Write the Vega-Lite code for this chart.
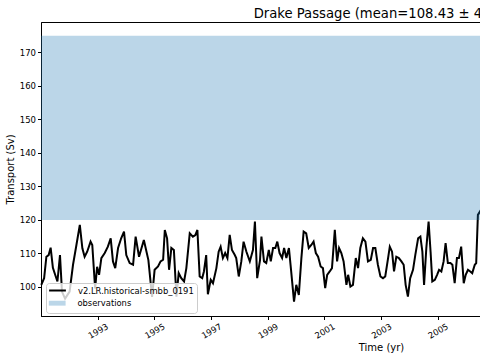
{
  "$schema": "https://vega.github.io/schema/vega-lite/v6.json",
  "autosize": "none",
  "padding": {"left": 41, "top": 22, "right": 10, "bottom": 44},
  "width": 680,
  "height": 294,
  "title": {"text": "Drake Passage (mean=108.43 ± 4.52)", "fontSize": 13.2, "font": "DejaVu Sans", "fontWeight": "normal", "color": "black", "offset": 0.5, "anchor": "middle"},
  "config": {
    "view": {"stroke": "black", "strokeWidth": 1},
    "font": "DejaVu Sans",
    "axis": {"grid": false, "domainColor": "black", "tickColor": "black", "labelColor": "black", "titleColor": "black", "labelFont": "DejaVu Sans", "titleFont": "DejaVu Sans", "labelFontSize": 8.5, "titleFontSize": 10, "titleFontWeight": "normal", "tickSize": 3.5, "domainWidth": 1, "tickWidth": 1, "labelOverlap": false, "labelFlush": false},
    "legend": {"labelFont": "DejaVu Sans", "labelFontSize": 8.4, "labelColor": "black", "titleFont": "DejaVu Sans"}
  },
  "layer": [
    {
      "data": {"values": [
        {"t": 1991.01, "v": 100.6}, {"t": 1991.11, "v": 102.6}, {"t": 1991.19, "v": 109.0}, {"t": 1991.27, "v": 109.5},
        {"t": 1991.34, "v": 111.7}, {"t": 1991.42, "v": 105.7}, {"t": 1991.50, "v": 103.6}, {"t": 1991.58, "v": 101.6},
        {"t": 1991.67, "v": 109.5}, {"t": 1991.74, "v": 98.6}, {"t": 1991.85, "v": 96.5}, {"t": 1992.01, "v": 98.6},
        {"t": 1992.13, "v": 106.6}, {"t": 1992.25, "v": 112.5}, {"t": 1992.37, "v": 118.5}, {"t": 1992.46, "v": 111.5},
        {"t": 1992.54, "v": 109.0}, {"t": 1992.63, "v": 110.5}, {"t": 1992.75, "v": 113.5}, {"t": 1992.81, "v": 112.5},
        {"t": 1992.91, "v": 99.5}, {"t": 1992.98, "v": 106.0}, {"t": 1993.05, "v": 103.6}, {"t": 1993.13, "v": 108.6},
        {"t": 1993.25, "v": 110.1}, {"t": 1993.36, "v": 112.0}, {"t": 1993.46, "v": 114.5}, {"t": 1993.54, "v": 107.6},
        {"t": 1993.62, "v": 105.6}, {"t": 1993.72, "v": 111.6}, {"t": 1993.83, "v": 114.5}, {"t": 1993.93, "v": 116.5},
        {"t": 1994.01, "v": 109.5}, {"t": 1994.13, "v": 107.1}, {"t": 1994.25, "v": 106.6}, {"t": 1994.34, "v": 115.0},
        {"t": 1994.46, "v": 109.0}, {"t": 1994.63, "v": 114.0}, {"t": 1994.79, "v": 108.0}, {"t": 1994.92, "v": 97.0},
        {"t": 1995.01, "v": 105.1}, {"t": 1995.13, "v": 106.1}, {"t": 1995.22, "v": 107.6}, {"t": 1995.31, "v": 108.1},
        {"t": 1995.37, "v": 117.0}, {"t": 1995.45, "v": 114.5}, {"t": 1995.52, "v": 105.1}, {"t": 1995.60, "v": 111.6},
        {"t": 1995.69, "v": 111.0}, {"t": 1995.78, "v": 97.1}, {"t": 1995.86, "v": 104.1}, {"t": 1995.95, "v": 102.6},
        {"t": 1996.05, "v": 101.6}, {"t": 1996.13, "v": 105.6}, {"t": 1996.25, "v": 116.0}, {"t": 1996.36, "v": 115.0},
        {"t": 1996.45, "v": 115.5}, {"t": 1996.52, "v": 117.0}, {"t": 1996.60, "v": 103.1}, {"t": 1996.69, "v": 102.6},
        {"t": 1996.75, "v": 104.6}, {"t": 1996.83, "v": 109.5}, {"t": 1996.89, "v": 97.8}, {"t": 1996.99, "v": 102.1},
        {"t": 1997.07, "v": 101.1}, {"t": 1997.19, "v": 105.6}, {"t": 1997.27, "v": 110.5}, {"t": 1997.34, "v": 112.0},
        {"t": 1997.42, "v": 108.6}, {"t": 1997.50, "v": 110.1}, {"t": 1997.58, "v": 108.6}, {"t": 1997.66, "v": 115.5},
        {"t": 1997.74, "v": 111.0}, {"t": 1997.84, "v": 109.5}, {"t": 1997.89, "v": 108.6}, {"t": 1997.98, "v": 103.1},
        {"t": 1998.07, "v": 107.6}, {"t": 1998.15, "v": 113.5}, {"t": 1998.25, "v": 110.5}, {"t": 1998.37, "v": 107.6},
        {"t": 1998.48, "v": 111.0}, {"t": 1998.55, "v": 119.5}, {"t": 1998.63, "v": 102.6}, {"t": 1998.73, "v": 108.0},
        {"t": 1998.78, "v": 115.0}, {"t": 1998.87, "v": 107.6}, {"t": 1998.95, "v": 107.1}, {"t": 1999.04, "v": 111.0},
        {"t": 1999.11, "v": 107.6}, {"t": 1999.19, "v": 111.6}, {"t": 1999.27, "v": 111.6}, {"t": 1999.34, "v": 113.5},
        {"t": 1999.42, "v": 110.1}, {"t": 1999.51, "v": 108.6}, {"t": 1999.58, "v": 111.6}, {"t": 1999.66, "v": 108.6},
        {"t": 1999.75, "v": 111.6}, {"t": 1999.83, "v": 104.6}, {"t": 1999.93, "v": 95.6}, {"t": 2000.01, "v": 100.6},
        {"t": 2000.10, "v": 97.6}, {"t": 2000.19, "v": 108.6}, {"t": 2000.27, "v": 116.5}, {"t": 2000.36, "v": 116.0},
        {"t": 2000.45, "v": 111.6}, {"t": 2000.54, "v": 112.5}, {"t": 2000.62, "v": 113.5}, {"t": 2000.70, "v": 110.1},
        {"t": 2000.78, "v": 109.0}, {"t": 2000.87, "v": 106.1}, {"t": 2000.95, "v": 105.6}, {"t": 2001.03, "v": 99.6},
        {"t": 2001.10, "v": 103.6}, {"t": 2001.19, "v": 104.6}, {"t": 2001.27, "v": 105.6}, {"t": 2001.37, "v": 117.0},
        {"t": 2001.45, "v": 107.6}, {"t": 2001.52, "v": 111.6}, {"t": 2001.60, "v": 110.1}, {"t": 2001.68, "v": 107.6},
        {"t": 2001.78, "v": 100.6}, {"t": 2001.84, "v": 103.6}, {"t": 2001.92, "v": 100.1}, {"t": 2002.01, "v": 100.6},
        {"t": 2002.11, "v": 108.6}, {"t": 2002.19, "v": 105.6}, {"t": 2002.27, "v": 111.6}, {"t": 2002.36, "v": 114.5},
        {"t": 2002.45, "v": 113.5}, {"t": 2002.54, "v": 107.6}, {"t": 2002.64, "v": 108.1}, {"t": 2002.72, "v": 111.6},
        {"t": 2002.80, "v": 111.6}, {"t": 2002.89, "v": 106.6}, {"t": 2002.98, "v": 103.1}, {"t": 2003.07, "v": 102.6},
        {"t": 2003.15, "v": 103.1}, {"t": 2003.25, "v": 108.6}, {"t": 2003.31, "v": 112.0}, {"t": 2003.39, "v": 110.5},
        {"t": 2003.46, "v": 104.6}, {"t": 2003.54, "v": 109.0}, {"t": 2003.63, "v": 108.6}, {"t": 2003.72, "v": 107.6},
        {"t": 2003.80, "v": 106.6}, {"t": 2003.87, "v": 100.6}, {"t": 2003.95, "v": 97.1}, {"t": 2004.03, "v": 102.6},
        {"t": 2004.13, "v": 105.1}, {"t": 2004.21, "v": 109.5}, {"t": 2004.31, "v": 114.5}, {"t": 2004.39, "v": 115.0},
        {"t": 2004.46, "v": 110.5}, {"t": 2004.52, "v": 100.6}, {"t": 2004.60, "v": 111.6}, {"t": 2004.68, "v": 119.5},
        {"t": 2004.75, "v": 110.5}, {"t": 2004.81, "v": 101.6}, {"t": 2004.90, "v": 102.1}, {"t": 2004.98, "v": 103.6},
        {"t": 2005.05, "v": 105.1}, {"t": 2005.13, "v": 104.6}, {"t": 2005.21, "v": 107.6}, {"t": 2005.28, "v": 113.1},
        {"t": 2005.36, "v": 107.1}, {"t": 2005.45, "v": 107.1}, {"t": 2005.52, "v": 106.6}, {"t": 2005.60, "v": 101.1},
        {"t": 2005.68, "v": 108.6}, {"t": 2005.75, "v": 108.6}, {"t": 2005.83, "v": 112.0}, {"t": 2005.92, "v": 101.1},
        {"t": 2005.99, "v": 103.6}, {"t": 2006.07, "v": 105.1}, {"t": 2006.15, "v": 104.6}, {"t": 2006.22, "v": 104.1},
        {"t": 2006.31, "v": 106.6}, {"t": 2006.36, "v": 107.1}, {"t": 2006.42, "v": 121.5}, {"t": 2006.53, "v": 123.0}
      ]},
      "mark": {"type": "line", "strokeWidth": 2},
      "encoding": {
        "x": {"field": "t", "type": "quantitative", "scale": {"domain": [1991, 2015], "nice": false, "zero": false},
              "axis": {"values": [1993, 1995, 1997, 1999, 2001, 2003, 2005, 2007, 2009, 2011, 2013], "format": "d", "labelAngle": -30, "labelAlign": "center", "labelBaseline": "middle", "labelPadding": 11, "title": "Time (yr)", "titlePadding": 3}},
        "y": {"field": "v", "type": "quantitative", "scale": {"domain": [91.3, 179.1], "nice": false, "zero": false},
              "axis": {"values": [100, 110, 120, 130, 140, 150, 160, 170], "title": "Transport (Sv)", "labelPadding": 2, "titlePadding": 4}},
        "color": {"datum": "v2.LR.historical-smbb_0191", "type": "nominal",
                  "scale": {"domain": ["v2.LR.historical-smbb_0191"], "range": ["black"]},
                  "legend": {"orient": "none", "legendX": 5, "legendY": 261, "title": " ", "titleOrient": "bottom", "titleFontSize": 8.4, "titlePadding": 6,
                             "padding": 3, "labelOffset": 16, "symbolOffset": 4, "symbolSize": 49, "symbolStrokeWidth": 2,
                             "symbolType": "M-2.4,0H2.4", "strokeColor": "#cccccc", "fillColor": "rgba(255,255,255,0.8)", "cornerRadius": 3}}
      }
    },
    {
      "data": {"values": [{"x0": 1991, "x1": 2015, "lo": 120, "hi": 175}]},
      "mark": {"type": "rect", "opacity": 0.3},
      "encoding": {
        "x": {"field": "x0", "type": "quantitative"},
        "x2": {"field": "x1"},
        "y": {"field": "lo", "type": "quantitative"},
        "y2": {"field": "hi"},
        "fill": {"datum": "observations", "type": "nominal",
                 "scale": {"domain": ["observations"], "range": ["#1f77b4"]},
                 "legend": {"orient": "none", "legendX": 5, "legendY": 274, "title": null, "padding": 3, "labelOffset": 16, "symbolOffset": 4, "symbolSize": 49, "symbolStrokeWidth": 0,
                            "symbolType": "M-2.4,-0.7H2.4V0.7H-2.4Z"}}
      }
    }
  ]
}
